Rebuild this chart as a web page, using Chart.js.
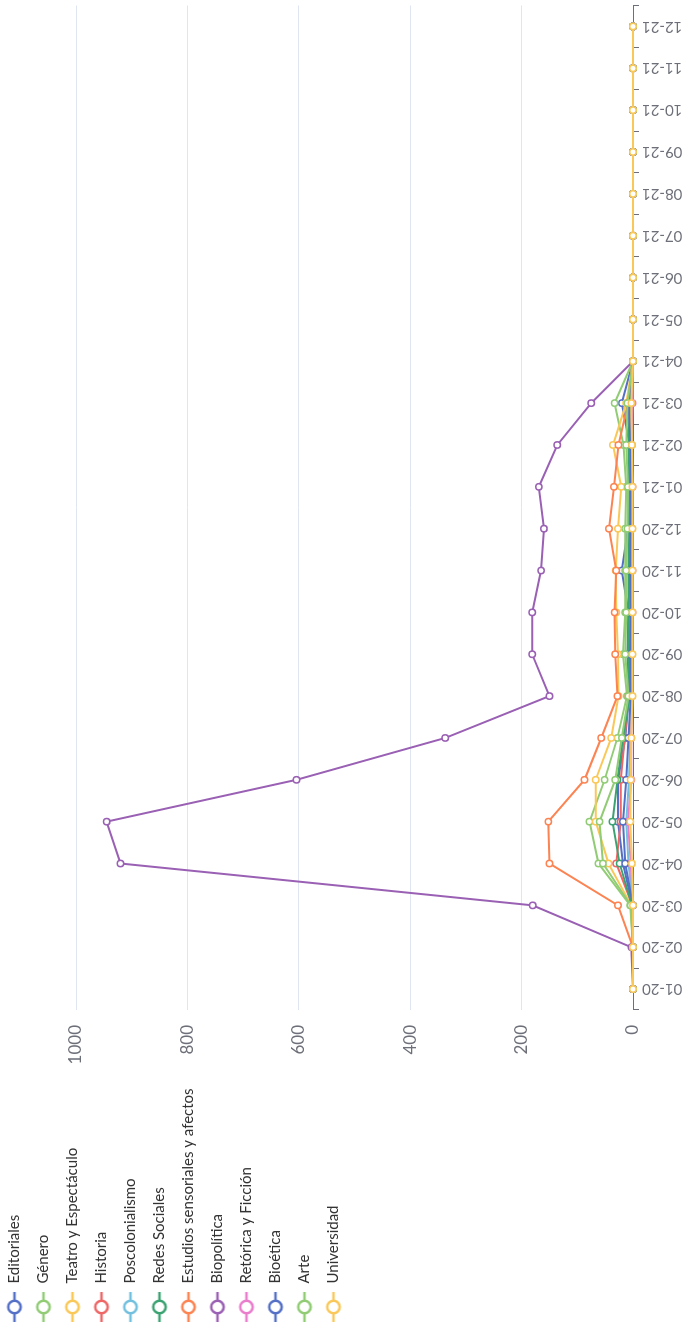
<!DOCTYPE html>
<html>
<head>
<meta charset="utf-8">
<script src="https://cdn.jsdelivr.net/npm/chart.js@4"></script>
<style>
html, body { margin: 0; padding: 0; background: #fff; overflow: hidden; }
#wrap {
    position: absolute; left: 0; top: 0;
    width: 1329px; height: 690px;
    transform-origin: 0 0;
    transform: translateY(1329px) rotate(-90deg);
}
</style>
</head>
<body>
<div id="wrap"><canvas id="chartTopics" width="1329" height="690"></canvas></div>
<script>
const months = [
    '01-20','02-20','03-20','04-20','05-20','06-20','07-20','08-20','09-20','10-20','11-20','12-20',
    '01-21','02-21','03-21','04-21','05-21','06-21','07-21','08-21','09-21','10-21','11-21','12-21',
];

const topicNames = [
    'Editoriales','Género','Teatro y Espectáculo','Historia','Poscolonialismo','Redes Sociales',
    'Estudios sensoriales y afectos','Biopolítica','Retórica y Ficción','Bioética','Arte','Universidad',
];

const topicColors = [
    '#5470c6','#91cc75','#fac858','#ee6666','#73c0de','#3ba272',
    '#fc8452','#9a60b4','#ea7ccc','#5470c6','#91cc75','#fac858',
];

// counts per month, 01-20 .. 12-21
const editoriales     = [0, 0, 1, 18, 27, 27, 14, 7, 10, 8, 20, 9, 6, 6, 20, 0, 0, 0, 0, 0, 0, 0, 0, 0];
const genero          = [0, 0, 5, 62, 78, 51, 28, 11, 18, 14, 14, 14, 12, 17, 33, 0, 0, 0, 0, 0, 0, 0, 0, 0];
const teatro          = [0, 0, 3, 44, 67, 67, 39, 26, 27, 30, 31, 27, 21, 36, 12, 0, 0, 0, 0, 0, 0, 0, 0, 0];
const historia        = [0, 0, 1, 30, 22, 22, 15, 8, 6, 5, 6, 5, 5, 6, 5, 0, 0, 0, 0, 0, 0, 0, 0, 0];
const poscolonialismo = [0, 0, 0, 8, 12, 7, 5, 3, 3, 3, 2, 2, 2, 2, 3, 0, 0, 0, 0, 0, 0, 0, 0, 0];
const redesSociales   = [0, 0, 2, 24, 37, 28, 18, 6, 9, 8, 8, 7, 7, 8, 6, 0, 0, 0, 0, 0, 0, 0, 0, 0];
const estudios        = [0, 0, 27, 150, 152, 87, 57, 28, 32, 33, 30, 43, 34, 26, 9, 0, 0, 0, 0, 0, 0, 0, 0, 0];
const biopolitica     = [0, 3, 180, 920, 945, 604, 337, 150, 181, 181, 165, 160, 169, 136, 75, 0, 0, 0, 0, 0, 0, 0, 0, 0];
const retorica        = [0, 0, 0, 4, 9, 3, 3, 2, 2, 1, 1, 2, 1, 3, 1, 0, 0, 0, 0, 0, 0, 0, 0, 0];
const bioetica        = [0, 0, 0, 14, 18, 12, 8, 4, 5, 4, 5, 4, 4, 4, 8, 0, 0, 0, 0, 0, 0, 0, 0, 0];
const arte            = [0, 0, 4, 54, 60, 32, 20, 8, 14, 12, 12, 10, 9, 12, 10, 0, 0, 0, 0, 0, 0, 0, 0, 0];
const universidad     = [0, 0, 0, 2, 5, 4, 3, 1, 1, 1, 1, 1, 1, 2, 3, 0, 0, 0, 0, 0, 0, 0, 0, 0];

const yTicks = [0, 200, 400, 600, 800, 1000];

const topicSeries = [
    editoriales, genero, teatro, historia, poscolonialismo, redesSociales,
    estudios, biopolitica, retorica, bioetica, arte, universidad,
];

// legend marker: short line with a hollow circle on it
function legendIcon(color) {
    const c = document.createElement('canvas');
    c.width = 32; c.height = 18;
    const ctx = c.getContext('2d');
    ctx.strokeStyle = color;
    ctx.lineWidth = 2.5;
    ctx.beginPath(); ctx.moveTo(1, 9); ctx.lineTo(31, 9); ctx.stroke();
    ctx.beginPath(); ctx.arc(16, 9, 6.3, 0, Math.PI * 2);
    ctx.fillStyle = '#fff'; ctx.fill(); ctx.stroke();
    return c;
}
const icons = topicColors.map(legendIcon);

Chart.defaults.font.family = 'Lato';

const chartTopics = document.getElementById('chartTopics');

new Chart(chartTopics, {
    type: 'line',
    data: {
        labels: months,
        datasets: topicSeries.map((d, i) => ({
            label: topicNames[i],
            data: d,
            order: topicSeries.length - i,
            clip: false,
            borderColor: topicColors[i],
            backgroundColor: topicColors[i],
            borderWidth: 2,
            tension: 0,
            fill: false,
            pointRadius: 3.2,
            pointBorderWidth: 1.5,
            pointBackgroundColor: '#fff',
            pointBorderColor: topicColors[i],
        }))
    },
    options: {
        responsive: false,
        animation: false,
        devicePixelRatio: 1,
        layout: {
            padding: { top: -7, left: -8, right: 2, bottom: 0 }
        },
        plugins: {
            title: {
                display: true,
                text: '',
                fullSize: false,
                padding: { top: 73, bottom: 0 },
                font: { size: 10, lineHeight: 1 }
            },
            legend: {
                position: 'left',
                align: 'start',
                labels: {
                    usePointStyle: true,
                    pointStyleWidth: 32,
                    padding: 14,
                    color: '#333',
                    font: { size: 15 },
                    sort: (a, b) => a.datasetIndex - b.datasetIndex,
                    generateLabels: function(chart) {
                        const items = Chart.defaults.plugins.legend.labels.generateLabels(chart);
                        items.forEach(it => { it.pointStyle = icons[it.datasetIndex]; });
                        return items;
                    }
                }
            },
            tooltip: { enabled: false }
        },
        scales: {
            x: {
                offset: true,
                grid: {
                    offset: true,
                    drawOnChartArea: false,
                    tickLength: 6,
                    color: '#6E7079'
                },
                border: { color: '#6E7079' },
                ticks: {
                    autoSkip: false,
                    minRotation: 90,
                    maxRotation: 90,
                    padding: 3,
                    color: '#6E7079',
                    font: { size: 15 }
                },
                afterFit: function(scale) { scale.height = 57; }
            },
            y: {
                min: 0,
                max: yTicks[yTicks.length - 1],
                afterBuildTicks: function(scale) { scale.ticks = yTicks.map(v => ({ value: v })); },
                grid: { color: '#E0E6F1', drawTicks: false },
                border: { display: false },
                ticks: {
                    padding: 15,
                    color: '#6E7079',
                    font: { size: 17 },
                    callback: function(value) { return String(value); }
                },
                afterFit: function(scale) { scale.width = 327 - scale.chart.legend.width; }
            }
        }
    }
});
</script>
</body>
</html>
